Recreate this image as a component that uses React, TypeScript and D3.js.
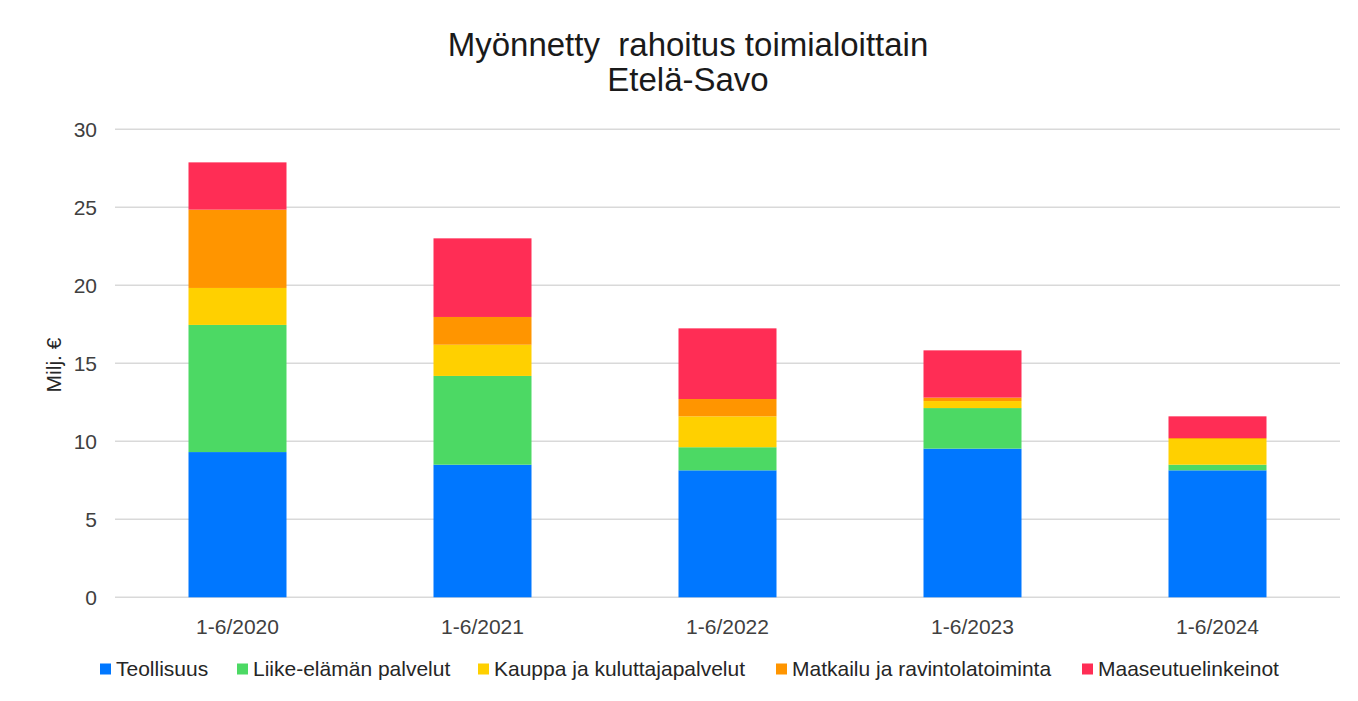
import { useEffect, useRef } from "react"
import * as d3 from "d3"

const categories = ["1-6/2020", "1-6/2021", "1-6/2022", "1-6/2023", "1-6/2024"]
const seriesNames = [
  "Teollisuus",
  "Liike-elämän palvelut",
  "Kauppa ja kuluttajapalvelut",
  "Matkailu ja ravintolatoiminta",
  "Maaseutuelinkeinot",
]
const seriesColors = ["#0077ff", "#4cd964", "#ffd000", "#ff9500", "#ff2d55"]

const teollisuus = [9.31, 8.5, 8.14, 9.53, 8.14]
const liike = [8.15, 5.69, 1.48, 2.6, 0.36]
const kauppa = [2.37, 2.0, 1.98, 0.45, 1.65]
const matkailu = [5.02, 1.78, 1.11, 0.22, 0.06]
const maaseutu = [3.03, 5.04, 4.53, 3.03, 1.39]

const yTicks = [0, 5, 10, 15, 20, 25, 30]

export default function App() {
  const svgRef = useRef<SVGSVGElement>(null)

  useEffect(() => {
    if (!svgRef.current) return
    const svg = d3.select(svgRef.current)
    svg.selectAll("*").remove()

    const width = 1358
    const height = 701
    const margin = { top: 129.3, right: 18, bottom: 103.7, left: 115 }
    const innerWidth = width - margin.left - margin.right
    const innerHeight = height - margin.top - margin.bottom
    const font = "'Liberation Sans', Arial, sans-serif"

    // chart frame
    svg.append("rect")
      .attr("x", 6.5).attr("y", 3.5)
      .attr("width", 1346).attr("height", 695)
      .attr("fill", "#fff")
      .attr("stroke", "#cfcfcf")
      .attr("stroke-width", 1.5)

    const rows = categories.map((c, i) => ({
      cat: c,
      [seriesNames[0]]: teollisuus[i],
      [seriesNames[1]]: liike[i],
      [seriesNames[2]]: kauppa[i],
      [seriesNames[3]]: matkailu[i],
      [seriesNames[4]]: maaseutu[i],
    }))

    const stacked = d3.stack<any>().keys(seriesNames)(rows)

    const x = d3.scaleBand().domain(categories).range([0, innerWidth]).paddingInner(0.6).paddingOuter(0.3)
    const y = d3.scaleLinear().domain([0, 30]).range([innerHeight, 0])

    const g = svg.append("g").attr("transform", `translate(${margin.left}, ${margin.top})`)

    // gridlines
    g.selectAll(".grid")
      .data(yTicks)
      .enter()
      .append("line")
      .attr("x1", 0)
      .attr("x2", innerWidth)
      .attr("y1", (d) => y(d))
      .attr("y2", (d) => y(d))
      .attr("stroke", "#d9d9d9")
      .attr("stroke-width", 1.5)

    // y tick labels
    g.selectAll(".ytick")
      .data(yTicks)
      .enter()
      .append("text")
      .attr("x", -18)
      .attr("y", (d) => y(d))
      .attr("dy", "0.35em")
      .attr("text-anchor", "end")
      .style("font-family", font)
      .style("font-size", "21px")
      .style("fill", "#404040")
      .text((d) => d)

    // bars
    stacked.forEach((layer, si) => {
      g.selectAll(`.bar-${si}`)
        .data(layer)
        .enter()
        .append("rect")
        .attr("x", (d: any) => x(d.data.cat) || 0)
        .attr("width", x.bandwidth())
        .attr("y", (d) => y(d[1]))
        .attr("height", (d) => y(d[0]) - y(d[1]))
        .attr("fill", seriesColors[si])
    })

    // x labels
    g.selectAll(".xtick")
      .data(categories)
      .enter()
      .append("text")
      .attr("x", (d) => (x(d) || 0) + x.bandwidth() / 2)
      .attr("y", innerHeight + 37)
      .attr("text-anchor", "middle")
      .style("font-family", font)
      .style("font-size", "21px")
      .style("fill", "#404040")
      .text((d) => d)

    // y axis label
    svg.append("text")
      .attr("transform", "translate(61, 365) rotate(-90)")
      .attr("text-anchor", "middle")
      .style("font-family", font)
      .style("font-size", "21px")
      .style("fill", "#262626")
      .text("Milj. €")

    // title
    const title = svg.append("text")
      .attr("text-anchor", "middle")
      .style("font-family", font)
      .style("font-size", "33px")
      .style("fill", "#1a1a1a")
    title.append("tspan").attr("x", 688).attr("y", 56).text("Myönnetty\u00a0 rahoitus toimialoittain")
    title.append("tspan").attr("x", 688).attr("y", 91).text("Etelä-Savo")

    // legend
    const legendX = [100, 237, 478, 776, 1082]
    seriesNames.forEach((name, i) => {
      const row = svg.append("g").attr("transform", `translate(${legendX[i]}, 669)`)
      row.append("rect").attr("x", 0).attr("y", -5.5).attr("width", 11).attr("height", 11).attr("fill", seriesColors[i])
      row.append("text")
        .attr("x", 16)
        .attr("y", 0)
        .attr("dy", "0.35em")
        .style("font-family", font)
        .style("font-size", "21px")
        .style("fill", "#262626")
        .text(name)
    })
  }, [])

  return (
    <div style={{ width: 1358, height: 701, margin: -8 }}>
      <svg ref={svgRef} width={1358} height={701} style={{ display: "block" }} />
    </div>
  )
}
